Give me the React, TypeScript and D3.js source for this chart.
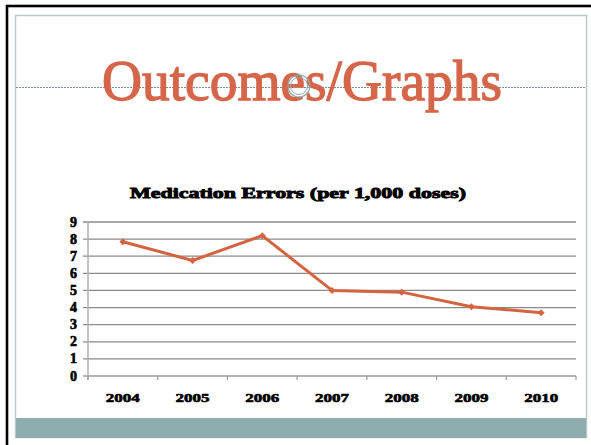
import React from 'react';
import * as d3 from 'd3';

// chart data
const years = ['2004', '2005', '2006', '2007', '2008', '2009', '2010'];
const errorRates = [7.85, 6.75, 8.2, 5.0, 4.9, 4.05, 3.7];
const yTicks = [0, 1, 2, 3, 4, 5, 6, 7, 8, 9];

const slideTitle = 'Outcomes/Graphs';
const chartTitle = 'Medication Errors (per 1,000 doses)';

const W = 591;
const H = 445;
const margin = { top: 222, right: 15, bottom: 69, left: 88 };

const App = () => {
    const x = d3.scaleBand()
        .domain(years)
        .range([margin.left, W - margin.right]);

    const y = d3.scaleLinear()
        .domain([0, 9])
        .range([H - margin.bottom, margin.top]);

    const line = d3.line<number>()
        .x((d, i) => (x(years[i]) as number) + x.bandwidth() / 2)
        .y(d => y(d));

    const serif = '"Liberation Serif", "DejaVu Serif", serif';
    const lineColor = '#d3643f';
    const bandEdges = years.map(yr => x(yr) as number).concat([W - margin.right]);

    return (
        <svg width={W} height={H} style={{ position: 'absolute', left: 0, top: 0, background: '#fff' }}>
            {/* slide frames */}
            <rect x={7} y={6} width={W + 20} height={H + 20} fill="#fff" stroke="#000" strokeWidth={2.6} />
            <rect x={15.5} y={15.5} width={571} height={422} fill="#fff" stroke="#b6c9ca" strokeWidth={1.5} />
            <rect x={16} y={418} width={570} height={20} fill="#8eadae" />

            {/* title guide line */}
            <line x1={16} x2={586} y1={87.5} y2={87.5} stroke="#7a8e90" strokeWidth={1} strokeDasharray="2,1" />
            <text x={302} y={100} textAnchor="middle" fontFamily={serif} fontSize={56}
                fill="#d5664a" stroke="#d5664a" strokeWidth={1.3} textLength={400}
                lengthAdjust="spacingAndGlyphs">{slideTitle}</text>
            <circle cx={299} cy={86} r={11} fill="none" stroke="#8fa9ab" strokeWidth={1.2} />
            <circle cx={299} cy={86} r={8.5} fill="none" stroke="#8fa9ab" strokeWidth={1} />

            {/* chart title */}
            <text x={298} y={198} textAnchor="middle" fontFamily={serif} fontSize={15.5} fontWeight={900}
                fill="#000" stroke="#000" strokeWidth={0.9} textLength={336} lengthAdjust="spacingAndGlyphs">{chartTitle}</text>

            {/* gridlines + y labels */}
            {yTicks.map(t => (
                <g key={t}>
                    <line x1={margin.left - 5} x2={W - margin.right} y1={y(t)} y2={y(t)}
                        stroke={t === 0 ? '#9a9a9a' : '#8a8a8a'} strokeWidth={1.3} />
                    <text x={77} y={y(t) + 4.5} textAnchor="end" fontFamily={serif} fontSize={14}
                        fontWeight={900} fill="#000" stroke="#000" strokeWidth={0.6}>{t}</text>
                </g>
            ))}

            {/* axes */}
            <line x1={margin.left} x2={margin.left} y1={y(9)} y2={y(0) + 4} stroke="#b0b0b0" strokeWidth={1.5} />
            {bandEdges.map((e, i) => (
                <line key={i} x1={e} x2={e} y1={y(0)} y2={y(0) + 4} stroke="#9a9a9a" strokeWidth={1.2} />
            ))}
            {years.map(yr => (
                <text key={yr} x={(x(yr) as number) + x.bandwidth() / 2} y={402} textAnchor="middle"
                    fontFamily={serif} fontSize={13} fontWeight={900} fill="#000" stroke="#000" strokeWidth={0.6}
                    textLength={34} lengthAdjust="spacingAndGlyphs">{yr}</text>
            ))}

            {/* series */}
            <path d={line(errorRates) as string} fill="none" stroke={lineColor} strokeWidth={3} strokeLinejoin="round" />
            {errorRates.map((v, i) => {
                const cx = (x(years[i]) as number) + x.bandwidth() / 2;
                const cy = y(v);
                return (
                    <path key={i} d={`M${cx},${cy - 3.5}L${cx + 3.5},${cy}L${cx},${cy + 3.5}L${cx - 3.5},${cy}Z`}
                        fill={lineColor} />
                );
            })}
        </svg>
    );
};

export default App;
